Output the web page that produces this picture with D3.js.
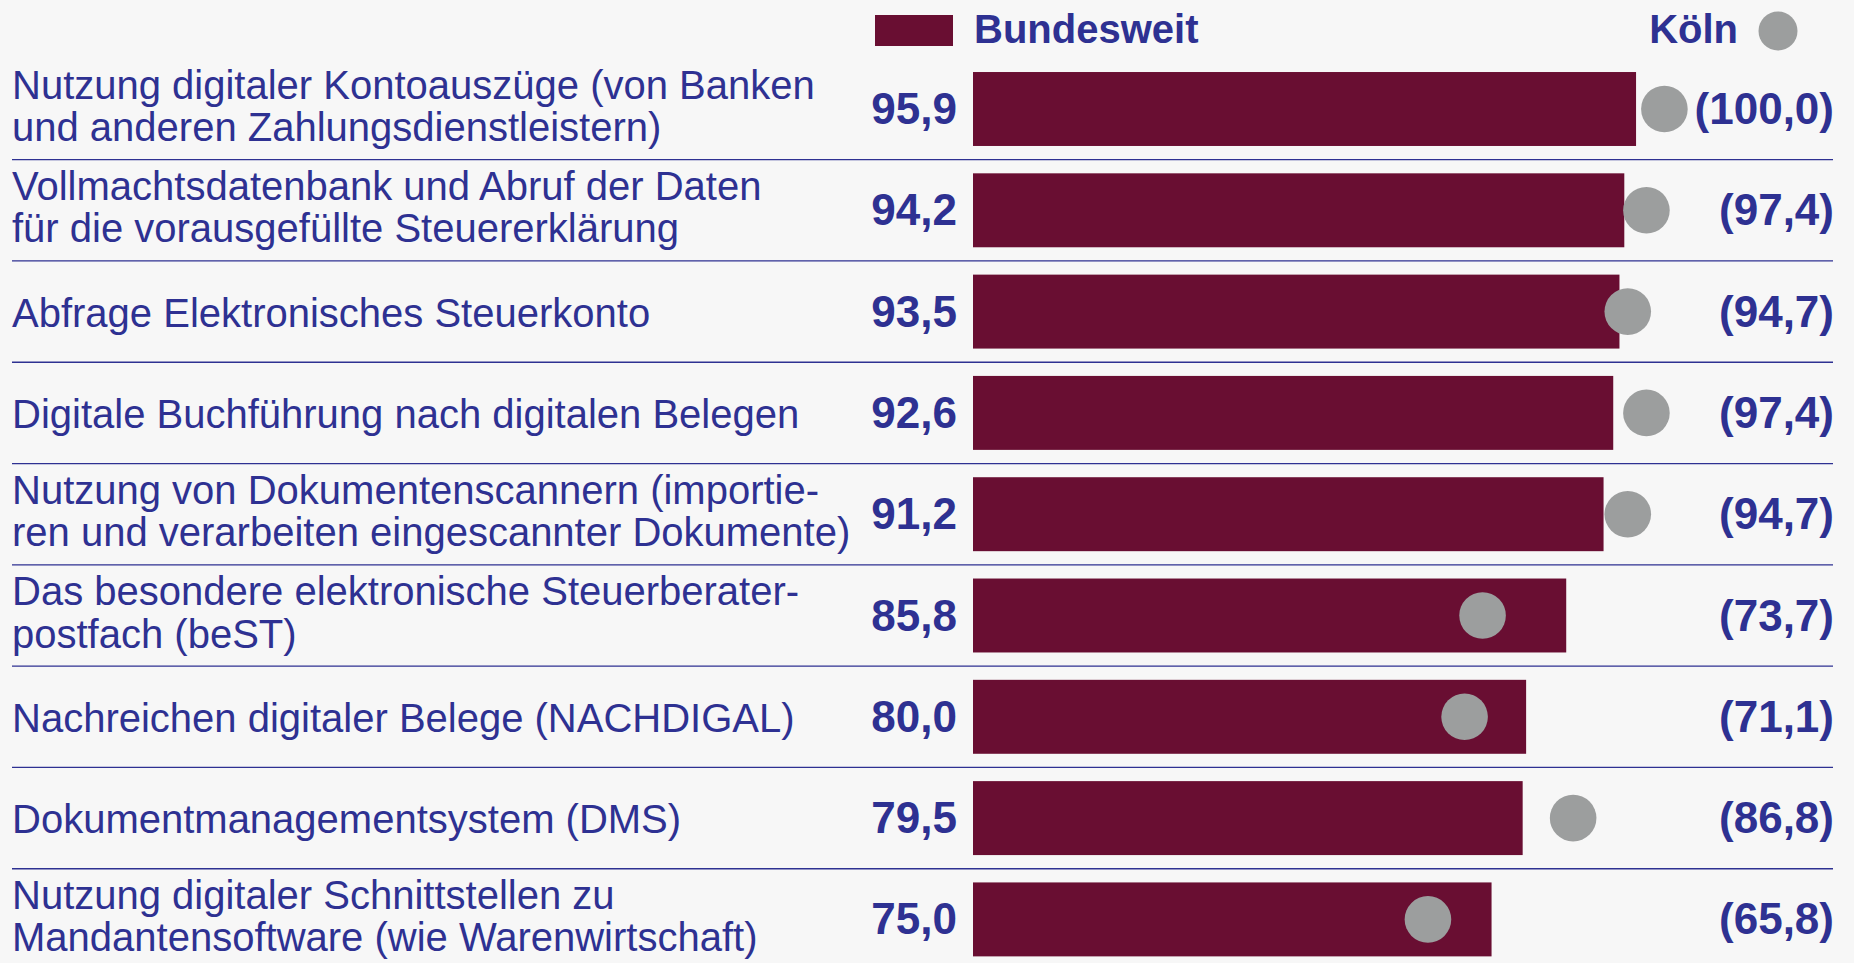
<!DOCTYPE html>
<html>
<head>
<meta charset="utf-8">
<script src="https://cdn.jsdelivr.net/npm/d3@7"></script>
<style>
  html, body { margin: 0; padding: 0; background: #f7f7f7; }
  svg { display: block; }
  svg text { font-family: "Liberation Sans", Arial, Helvetica, sans-serif; }
</style>
</head>
<body>
<div id="chart"></div>
<script>
// categories (label lines)
const categories = [
  ["Nutzung digitaler Kontoauszüge (von Banken", "und anderen Zahlungsdienstleistern)"],
  ["Vollmachtsdatenbank und Abruf der Daten", "für die vorausgefüllte Steuererklärung"],
  ["Abfrage Elektronisches Steuerkonto"],
  ["Digitale Buchführung nach digitalen Belegen"],
  ["Nutzung von Dokumentenscannern (importie-", "ren und verarbeiten eingescannter Dokumente)"],
  ["Das besondere elektronische Steuerberater-", "postfach (beST)"],
  ["Nachreichen digitaler Belege (NACHDIGAL)"],
  ["Dokumentmanagementsystem (DMS)"],
  ["Nutzung digitaler Schnittstellen zu", "Mandantensoftware (wie Warenwirtschaft)"]
];
const bundesweit = [95.9, 94.2, 93.5, 92.6, 91.2, 85.8, 80.0, 79.5, 75.0];
const koeln = [100.0, 97.4, 94.7, 97.4, 94.7, 73.7, 71.1, 86.8, 65.8];
const legendLabels = ["Bundesweit", "Köln"];

const width = 1854, height = 963;
const textColor = "#2e3192", barColor = "#690e32", dotColor = "#9c9e9e";

const svg = d3.select("#chart").append("svg")
  .attr("width", width)
  .attr("height", height);

const data = categories.map((c, i) => ({ id: i, lines: c, bund: bundesweit[i], koeln: koeln[i] }));

const x = d3.scaleLinear().domain([0, 100]).range([973, 1664.4]);

const step = 101.3;
const y0 = 109 - step / 2;
const y = d3.scaleBand()
  .domain(data.map(d => d.id))
  .range([y0, y0 + step * data.length])
  .paddingInner(0.27)
  .paddingOuter(0.135);

const fmt = v => d3.format(".1f")(v).replace(".", ",");

// separators
svg.append("g").selectAll("line")
  .data(data.slice(0, -1))
  .join("line")
  .attr("x1", 12).attr("x2", 1833)
  .attr("y1", d => y0 + (d.id + 1) * step)
  .attr("y2", d => y0 + (d.id + 1) * step)
  .attr("stroke", textColor)
  .attr("stroke-width", 1.3);

const rows = svg.append("g").selectAll("g")
  .data(data)
  .join("g")
  .attr("transform", d => `translate(0,${y(d.id) + y.bandwidth() / 2})`);

// bars
rows.append("rect")
  .attr("x", x(0))
  .attr("y", -y.bandwidth() / 2)
  .attr("width", d => x(d.bund) - x(0))
  .attr("height", y.bandwidth())
  .attr("fill", barColor);

// Köln dots
rows.append("circle")
  .attr("cx", d => x(d.koeln))
  .attr("cy", 0)
  .attr("r", 23.3)
  .attr("fill", dotColor);

// category labels
rows.append("text")
  .attr("fill", textColor)
  .style("font-size", "40px")
  .each(function (d) {
    const t = d3.select(this);
    const offs = d.lines.length === 1 ? [15] : [-10.5, 32];
    d.lines.forEach((l, k) => {
      t.append("tspan").attr("x", 12).attr("y", offs[k]).text(l);
    });
  });

// Bundesweit values
rows.append("text")
  .attr("x", 957)
  .attr("y", 15)
  .attr("text-anchor", "end")
  .attr("fill", textColor)
  .style("font-size", "44px")
  .style("font-weight", "bold")
  .text(d => fmt(d.bund));

// Köln values
rows.append("text")
  .attr("x", 1834)
  .attr("y", 15)
  .attr("text-anchor", "end")
  .attr("fill", textColor)
  .style("font-size", "44px")
  .style("font-weight", "bold")
  .text(d => "(" + fmt(d.koeln) + ")");

// legend
const legend = svg.append("g");
legend.append("rect")
  .attr("x", 875).attr("y", 15)
  .attr("width", 78).attr("height", 31)
  .attr("fill", barColor);
legend.append("text")
  .attr("x", 974).attr("y", 43)
  .attr("fill", textColor)
  .style("font-size", "40px")
  .style("font-weight", "bold")
  .text(legendLabels[0]);
legend.append("text")
  .attr("x", 1738).attr("y", 43)
  .attr("text-anchor", "end")
  .attr("fill", textColor)
  .style("font-size", "40px")
  .style("font-weight", "bold")
  .text(legendLabels[1]);
legend.append("circle")
  .attr("cx", 1778).attr("cy", 31)
  .attr("r", 19.5)
  .attr("fill", dotColor);
</script>
</body>
</html>
